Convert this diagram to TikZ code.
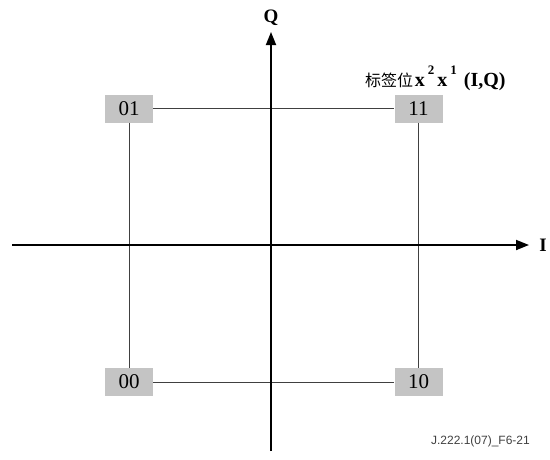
\documentclass[tikz,border=0pt]{standalone}
\usepackage{fontspec}
\setmainfont{Liberation Serif}
\newfontfamily\cjk{Noto Sans CJK SC}
\newfontfamily\footfont{Liberation Sans}
\usetikzlibrary{arrows.meta}
\begin{document}
\begin{tikzpicture}[x=1pt,y=-1pt,
  pt/.style={fill=black!23,minimum width=48pt,minimum height=28pt,inner sep=0pt,font=\fontsize{21}{21}\selectfont},
  axis/.style={line width=1.8pt,-{Triangle[length=13pt,width=10pt]}},
  grid/.style={line width=0.7pt,black!75}]
\useasboundingbox (0,0) rectangle (550,459);
\coordinate (hl) at (12,245);
\coordinate (hr) at (529,245);
\coordinate (vb) at (271,451);
\coordinate (vt) at (271,32);
\node[pt] (p01) at (129,108.5) {01};
\node[pt] (p11) at (418.5,108.5) {11};
\node[pt] (p00) at (129,382) {00};
\node[pt] (p10) at (418.5,382) {10};
\draw[grid] (p01) -- (p11);
\draw[grid] (p00) -- (p10);
\draw[grid] (p01) -- (p00);
\draw[grid] (p11) -- (p10);
\draw[axis] (hl) -- (hr);
\draw[axis] (vb) -- (vt);
\node[font=\bfseries\fontsize{19}{19}\selectfont] (lq) at (271,18) {Q};
\node[font=\bfseries\fontsize{19}{19}\selectfont] (li) at (543,245) {I};
\node[anchor=base west,inner sep=0pt] (lab) at (365,86) {{\cjk\fontsize{16}{16}\selectfont 标签位}\,{\bfseries\fontsize{20}{20}\selectfont x\raisebox{12pt}{\fontsize{13}{13}\selectfont\hspace{3pt}2\hspace{3pt}}x\raisebox{12pt}{\fontsize{13}{13}\selectfont\hspace{3pt}1}\hspace{7pt}(I,Q)}};
\node[anchor=base east,inner sep=0pt,text=black!75,font=\footfont\fontsize{12}{12}\selectfont] (ft) at (530,444) {J.222.1(07)\_F6-21};
\end{tikzpicture}
\end{document}
